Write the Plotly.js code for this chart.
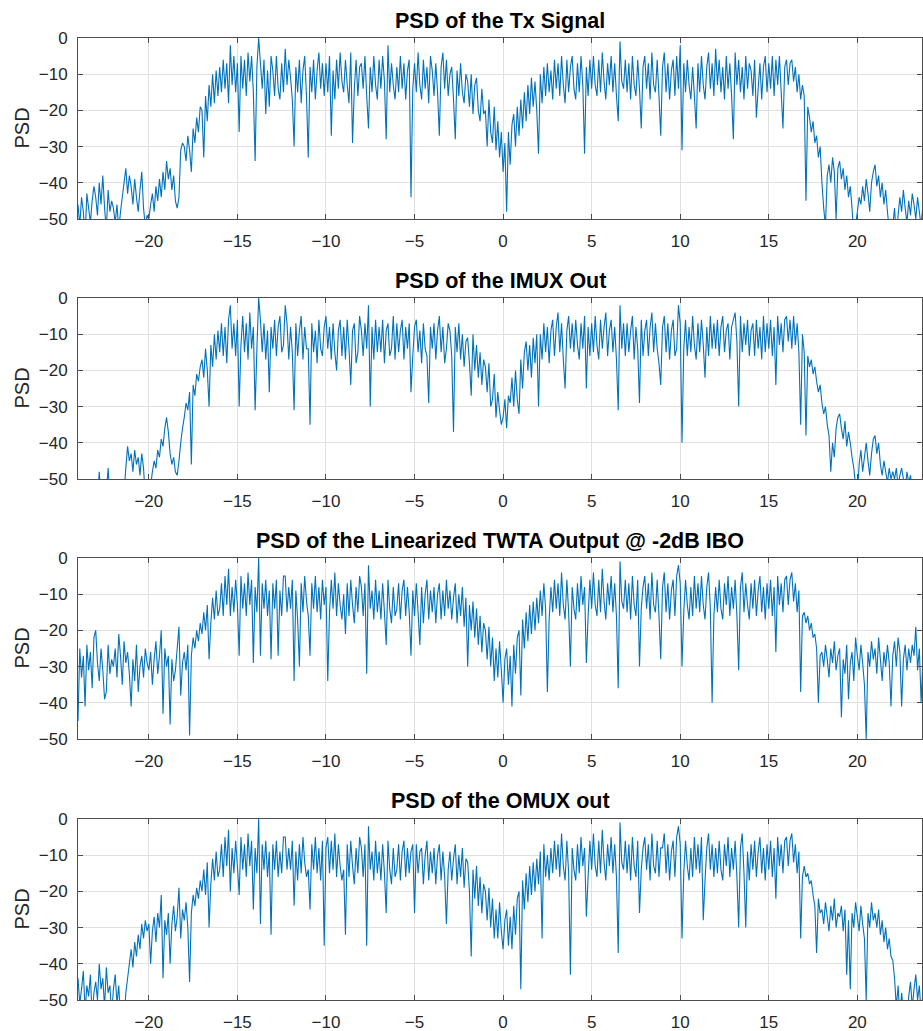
<!DOCTYPE html>
<html>
<head>
<meta charset="utf-8">
<script src="https://cdn.plot.ly/plotly-3.0.1.min.js"></script>
<style>
  html, body { margin: 0; padding: 0; background: #ffffff; }
  #chart { width: 923px; height: 1031px; }
</style>
</head>
<body>
<div id="chart"></div>
<script>
// Frequency grid of the PSD estimates (first bin and bin spacing)
const FREQ_START = -24;
const FREQ_STEP = 0.1;

const titles = [
  "PSD of the Tx Signal",
  "PSD of the IMUX Out",
  "PSD of the Linearized TWTA Output @ -2dB IBO",
  "PSD of the OMUX out"
];
const xTickVals = [-20, -15, -10, -5, 0, 5, 10, 15, 20];
const yTickVals = [-50, -40, -30, -20, -10, 0];

// PSD of the Tx Signal (dB), one row per unit of frequency from -24 to 23
const txPsd = [
  -46,-52,-44,-48,-55,-43,-47,-51,-45,-41,
  -44,-49,-40,-46,-38,-47,-53,-42,-48,-45,
  -47,-51,-46,-53,-48,-44,-40,-36,-43,-38,
  -41,-46,-39,-44,-48,-42,-37,-47,-52,-49,
  -50,-46,-43,-48,-41,-45,-39,-44,-37,-42,
  -34,-39,-36,-42,-38,-45,-47,-44,-31,-29,
  -30,-34,-27,-31,-37,-25,-29,-22,-26,-19,
  -20,-33,-16,-23,-13,-19,-10,-18,-9,-16,
  -8,-15,-6,-14,-7,-18,-2,-13,-5,-15,
  -7,-26,-5,-14,-6,-16,-4,-12,-5,-15,
  -34,-8,0,-7,-14,-6,-21,-9,-19,-5,
  -9,-16,-5,-14,-17,-7,-15,-3,-13,-6,
  -11,-17,-30,-8,-15,-6,-18,-9,-5,-16,
  -33,-8,-15,-6,-17,-9,-4,-14,-7,-16,
  -7,-15,-5,-27,-9,-17,-6,-14,-4,-12,
  -15,-6,-13,-18,-4,-29,-14,-6,-16,-8,
  -7,-14,-5,-16,-25,-8,-15,-5,-13,-17,
  -6,-14,-5,-12,-28,-2,-15,-7,-13,-17,
  -8,-15,-5,-14,-7,-17,-9,-6,-44,-14,
  -7,-15,-4,-13,-17,-6,-14,-8,-18,-5,
  -9,-16,-7,-15,-27,-8,-4,-14,-6,-16,
  -10,-8,-17,-28,-9,-16,-7,-15,-18,-10,
  -12,-19,-10,-21,-13,-11,-20,-23,-14,-21,
  -20,-30,-17,-26,-29,-19,-31,-23,-33,-26,
  -37,-29,-48,-26,-35,-24,-21,-30,-19,-27,
  -17,-25,-15,-23,-13,-21,-11,-19,-12,-20,
  -32,-10,-18,-8,-16,-7,-15,-9,-17,-6,
  -14,-7,-16,-5,-13,-18,-6,-15,-8,-5,
  -14,-17,-7,-15,-5,-13,-32,-8,-16,-6,
  -14,-5,-13,-16,-6,-15,-4,-12,-17,-7,
  -13,-5,-15,-7,-16,-23,-1,-12,-14,-6,
  -15,-7,-17,-5,-13,-16,-6,-14,-25,-8,
  -5,-14,-7,-17,-4,-13,-15,-6,-16,-27,
  -8,-4,-15,-7,-17,-9,-6,-16,-5,-14,
  -2,-31,-7,-15,-6,-13,-17,-8,-16,-25,
  -7,-15,-5,-13,-17,-8,-4,-14,-7,-16,
  -3,-13,-6,-15,-8,-17,-5,-14,-7,-16,
  -28,-4,-13,-6,-15,-8,-17,-5,-14,-7,
  -9,-16,-6,-22,-14,-7,-17,-8,-5,-15,
  -7,-14,-5,-16,-6,-13,-5,-15,-25,-8,
  -6,-13,-7,-6,-12,-8,-15,-10,-17,-13,
  -16,-45,-19,-22,-26,-23,-29,-27,-33,-30,
  -40,-47,-52,-38,-35,-40,-33,-37,-50,-36,
  -34,-39,-36,-42,-38,-44,-41,-47,-55,-52,
  -48,-44,-46,-41,-45,-39,-43,-48,-40,-37,
  -35,-41,-38,-44,-40,-46,-42,-48,-53,-50,
  -52,-47,-55,-49,-44,-48,-42,-47,-51,-45,
  -49,-43,-46,-50,-44,-48,-52,-46,-50,-47
];

// PSD of the IMUX Out (dB)
const imuxPsd = [
  -56,-60,-55,-58,-62,-57,-54,-59,-61,-56,
  -58,-55,-48,-56,-60,-57,-54,-47,-55,-59,
  -57,-61,-55,-58,-56,-60,-54,-47,-41,-45,
  -43,-48,-42,-46,-44,-49,-43,-47,-55,-58,
  -57,-52,-48,-45,-47,-42,-44,-39,-41,-36,
  -33,-37,-43,-46,-44,-48,-49,-45,-40,-36,
  -33,-29,-31,-26,-46,-24,-27,-21,-23,-19,
  -17,-22,-14,-20,-30,-13,-19,-10,-17,-9,
  -15,-7,-16,-8,-18,-6,-2,-14,-7,-16,
  -6,-30,-13,-5,-15,-7,-17,-4,-14,-8,
  -31,-14,0,-6,-15,-7,-17,-9,-26,-8,
  -14,-6,-16,-8,-5,-15,-13,-2,-7,-17,
  -8,-15,-31,-7,-16,-9,-5,-17,-8,-14,
  -14,-35,-7,-15,-9,-18,-6,-14,-16,-8,
  -5,-14,-8,-17,-7,-15,-20,-9,-6,-16,
  -8,-17,-6,-14,-24,-9,-7,-18,-15,-5,
  -9,-16,-7,-14,-2,-30,-8,-17,-6,-15,
  -8,-15,-6,-18,-9,-7,-16,-14,-5,-17,
  -7,-15,-9,-6,-17,-8,-14,-7,-26,-16,
  -8,-6,-15,-9,-18,-7,-14,-16,-29,-8,
  -14,-7,-17,-9,-5,-15,-8,-18,-14,-7,
  -9,-16,-37,-8,-15,-7,-17,-10,-19,-12,
  -11,-18,-27,-10,-20,-13,-22,-15,-24,-17,
  -19,-26,-18,-30,-28,-21,-33,-26,-31,-35,
  -33,-28,-36,-27,-29,-22,-30,-20,-28,-32,
  -17,-25,-15,-12,-20,-13,-22,-11,-18,-10,
  -30,-10,-17,-7,-15,-8,-18,-9,-6,-16,
  -8,-4,-15,-7,-17,-25,-9,-5,-14,-7,
  -15,-6,-13,-17,-7,-14,-5,-25,-8,-16,
  -7,-15,-5,-13,-17,-6,-14,-8,-4,-16,
  -9,-6,-15,-8,-17,-31,-2,-14,-7,-16,
  -7,-15,-9,-5,-17,-8,-14,-29,-6,-16,
  -9,-6,-16,-8,-4,-15,-7,-14,-18,-24,
  -8,-5,-15,-7,-17,-9,-6,-16,-14,-2,
  -7,-40,-14,-6,-16,-8,-15,-5,-13,-17,
  -7,-15,-6,-13,-22,-8,-16,-5,-14,-7,
  -14,-6,-16,-8,-5,-15,-9,-7,-17,-8,
  -6,-4,-12,-30,-5,-15,-7,-13,-6,-16,
  -9,-7,-16,-6,-14,-8,-17,-5,-15,-7,
  -14,-6,-16,-8,-24,-5,-13,-7,-15,-6,
  -5,-12,-6,-14,-5,-13,-7,-15,-35,-10,
  -15,-38,-16,-19,-17,-21,-19,-23,-26,-24,
  -29,-32,-30,-35,-38,-48,-40,-44,-36,-33,
  -32,-36,-39,-34,-41,-37,-40,-44,-47,-52,
  -55,-46,-42,-48,-44,-40,-45,-49,-43,-39,
  -38,-43,-40,-46,-49,-45,-48,-51,-47,-50,
  -48,-50,-47,-52,-49,-47,-50,-53,-48,-51,
  -49,-53,-55,-58,-56,-60,-57,-59,-62,-58
];

// PSD of the Linearized TWTA Output @ -2dB IBO (dB)
const twtaPsd = [
  -45,-25,-33,-27,-41,-24,-31,-26,-36,-22,
  -20,-29,-34,-25,-31,-39,-37,-24,-32,-28,
  -30,-25,-33,-21,-27,-35,-23,-29,-26,-32,
  -41,-28,-34,-24,-37,-30,-27,-33,-25,-29,
  -31,-26,-35,-28,-23,-32,-27,-20,-43,-25,
  -30,-27,-46,-28,-34,-31,-25,-19,-38,-29,
  -26,-31,-24,-49,-27,-22,-25,-20,-23,-18,
  -21,-15,-20,-13,-28,-18,-11,-17,-9,-16,
  -14,-7,-16,-5,-13,-3,-16,-8,-15,-6,
  -13,-27,-5,-14,-7,-16,-4,-13,-6,-29,
  -8,-15,0,-27,-7,-14,-6,-16,-9,-28,
  -7,-14,-6,-27,-9,-16,-5,-5,-15,-8,
  -14,-6,-34,-9,-17,-30,-7,-15,-5,-12,
  -16,-27,-7,-14,-5,-15,-8,-17,-6,-13,
  -8,-34,-15,-6,-14,-4,-16,-7,-13,-17,
  -10,-21,-7,-16,-6,-13,-18,-8,-15,-5,
  -8,-16,-7,-32,-2,-14,-9,-17,-6,-15,
  -9,-17,-7,-15,-24,-6,-14,-18,-8,-16,
  -14,-7,-17,-9,-6,-16,-8,-15,-27,-9,
  -16,-7,-15,-24,-8,-18,-10,-6,-17,-9,
  -15,-8,-18,-10,-7,-17,-9,-16,-6,-14,
  -9,-17,-11,-7,-18,-10,-16,-8,-19,-11,
  -30,-13,-20,-12,-22,-14,-24,-16,-26,-18,
  -20,-28,-19,-30,-22,-34,-25,-33,-23,-31,
  -40,-28,-25,-35,-27,-41,-24,-32,-22,-20,
  -38,-17,-25,-15,-23,-13,-21,-12,-20,-11,
  -18,-9,-16,-7,-14,-37,-17,-8,-15,-6,
  -14,-7,-16,-4,-13,-17,-6,-15,-30,-8,
  -14,-17,-7,-15,-5,-13,-8,-29,-16,-6,
  -14,-4,-13,-16,-6,-15,-3,-12,-17,-7,
  -13,-5,-15,-7,-16,-36,-1,-12,-14,-6,
  -15,-7,-17,-5,-13,-16,-6,-30,-14,-8,
  -5,-14,-7,-17,-4,-13,-15,-6,-16,-28,
  -8,-4,-15,-7,-17,-9,-6,-16,-5,-2,
  -7,-30,-15,-6,-13,-17,-8,-16,-5,-14,
  -7,-15,-5,-13,-17,-8,-4,-14,-40,-16,
  -8,-15,-6,-14,-17,-7,-13,-5,-16,-8,
  -14,-6,-16,-31,-8,-4,-15,-7,-13,-17,
  -7,-14,-6,-16,-9,-5,-15,-8,-17,-7,
  -14,-6,-16,-8,-26,-5,-13,-7,-15,-6,
  -5,-13,-6,-4,-12,-7,-15,-9,-37,-16,
  -15,-18,-16,-20,-18,-22,-21,-25,-40,-27,
  -26,-30,-24,-28,-33,-25,-29,-23,-31,-27,
  -25,-44,-28,-32,-24,-39,-29,-26,-34,-22,
  -27,-31,-24,-29,-35,-50,-26,-30,-23,-28,
  -25,-32,-22,-28,-34,-26,-30,-24,-29,-41,
  -27,-23,-30,-22,-26,-41,-28,-24,-31,-25,
  -29,-24,-27,-19,-31,-25,-40,-28,-33,-26
];

// PSD of the OMUX out (dB)
const omuxPsd = [
  -44,-51,-47,-42,-53,-46,-49,-43,-55,-48,
  -45,-50,-40,-47,-44,-52,-41,-48,-46,-54,
  -47,-43,-51,-46,-55,-52,-56,-48,-44,-40,
  -36,-41,-34,-38,-32,-36,-29,-33,-28,-31,
  -29,-40,-31,-27,-34,-26,-30,-21,-44,-28,
  -32,-26,-40,-29,-24,-31,-27,-19,-33,-25,
  -28,-23,-30,-45,-26,-21,-24,-19,-22,-17,
  -20,-14,-21,-12,-30,-18,-11,-17,-9,-16,
  -14,-7,-16,-5,-13,-3,-20,-8,-15,-6,
  -13,-21,-5,-14,-7,-16,-4,-13,-6,-25,
  -8,-15,0,-29,-7,-14,-6,-16,-9,-32,
  -7,-14,-6,-16,-9,-15,-5,-5,-14,-8,
  -14,-6,-24,-9,-17,-7,-15,-5,-12,-16,
  -14,-25,-7,-14,-5,-15,-8,-17,-6,-35,
  -8,-5,-15,-6,-14,-4,-16,-7,-13,-17,
  -14,-32,-7,-16,-6,-13,-18,-8,-15,-5,
  -8,-16,-7,-35,-2,-14,-9,-17,-6,-15,
  -9,-17,-7,-15,-26,-6,-14,-18,-8,-16,
  -14,-7,-17,-9,-6,-16,-8,-15,-9,-7,
  -26,-7,-15,-9,-8,-18,-10,-6,-17,-9,
  -15,-8,-18,-10,-7,-17,-9,-16,-29,-14,
  -9,-17,-11,-7,-18,-10,-16,-8,-19,-11,
  -12,-20,-38,-14,-22,-13,-24,-16,-26,-18,
  -20,-28,-19,-30,-22,-33,-25,-33,-23,-31,
  -36,-28,-25,-35,-27,-36,-24,-32,-22,-20,
  -47,-17,-25,-15,-23,-13,-21,-12,-20,-11,
  -18,-9,-33,-7,-16,-10,-17,-8,-15,-6,
  -14,-7,-16,-4,-13,-17,-6,-15,-43,-8,
  -14,-17,-7,-15,-5,-13,-8,-27,-16,-6,
  -14,-4,-13,-16,-6,-15,-3,-12,-17,-7,
  -13,-5,-15,-7,-16,-37,-1,-12,-14,-6,
  -15,-7,-17,-5,-13,-16,-6,-26,-14,-8,
  -5,-14,-7,-17,-4,-13,-15,-6,-16,-8,
  -8,-4,-15,-7,-17,-9,-6,-16,-5,-2,
  -7,-33,-15,-6,-13,-17,-8,-16,-5,-14,
  -7,-15,-5,-28,-17,-8,-4,-14,-7,-16,
  -8,-15,-6,-14,-17,-7,-13,-5,-16,-8,
  -14,-6,-16,-30,-8,-4,-15,-30,-9,-17,
  -7,-14,-6,-16,-9,-5,-15,-8,-17,-7,
  -14,-6,-16,-8,-22,-5,-13,-7,-15,-6,
  -5,-13,-6,-4,-12,-7,-15,-9,-33,-16,
  -13,-16,-15,-18,-17,-21,-24,-37,-22,-26,
  -25,-29,-23,-27,-31,-24,-28,-22,-30,-26,
  -27,-24,-31,-25,-43,-28,-47,-26,-30,-23,
  -27,-31,-24,-29,-33,-50,-26,-30,-23,-28,
  -26,-30,-25,-32,-28,-34,-30,-36,-33,-38,
  -39,-44,-52,-46,-55,-48,-53,-50,-56,-49,
  -45,-52,-47,-43,-50,-46,-54,-48,-44,-51
];

const series = [txPsd, imuxPsd, twtaPsd, omuxPsd];

const FONT = "Liberation Sans, Arial, Helvetica, sans-serif";
const LINE_COLOR = "#0072BD";
const domains = [[0.8119, 1], [0.5416, 0.7297], [0.2713, 0.4595], [0, 0.1882]];
const titleY = [1.0177, 0.7474, 0.4771, 0.2069];
const minusText = v => String(v).replace("-", "\u2212");

const traces = series.map((vals, i) => ({
  type: "scatter",
  mode: "lines",
  x0: FREQ_START,
  dx: FREQ_STEP,
  y: vals,
  xaxis: i === 0 ? "x" : "x" + (i + 1),
  yaxis: i === 0 ? "y" : "y" + (i + 1),
  line: { color: LINE_COLOR, width: 1.1, simplify: false },
  hoverinfo: "skip",
  showlegend: false
}));

const layout = {
  width: 923,
  height: 1031,
  margin: { l: 78, r: 1, t: 38, b: 31, pad: 0 },
  paper_bgcolor: "#ffffff",
  plot_bgcolor: "#ffffff",
  showlegend: false,
  font: { family: FONT, color: "#262626" },
  annotations: []
};

for (let i = 0; i < 4; i++) {
  const sfx = i === 0 ? "" : String(i + 1);
  layout["xaxis" + sfx] = {
    anchor: "y" + sfx,
    domain: [0, 1],
    range: [-24, 23.65],
    tickmode: "array",
    tickvals: xTickVals,
    ticktext: xTickVals.map(minusText),
    ticks: "inside",
    ticklen: 5,
    tickwidth: 1,
    tickcolor: "#4d4d4d",
    showline: true,
    linecolor: "#4d4d4d",
    linewidth: 1,
    mirror: "allticks",
    showgrid: true,
    gridcolor: "#e0e0e0",
    gridwidth: 1,
    zeroline: false,
    ticklabelstandoff: 7,
    tickfont: { family: FONT, size: 17, color: "#262626" },
    fixedrange: true
  };
  layout["yaxis" + sfx] = {
    anchor: "x" + sfx,
    domain: domains[i],
    range: [-50, 0],
    tickmode: "array",
    tickvals: yTickVals,
    ticktext: yTickVals.map(minusText),
    ticks: "inside",
    ticklen: 5,
    tickwidth: 1,
    tickcolor: "#4d4d4d",
    showline: true,
    linecolor: "#4d4d4d",
    linewidth: 1,
    mirror: "allticks",
    showgrid: true,
    gridcolor: "#e0e0e0",
    gridwidth: 1,
    zeroline: false,
    ticklabelstandoff: 6,
    tickfont: { family: FONT, size: 17, color: "#262626" },
    fixedrange: true
  };
  layout.annotations.push({
    text: "<b>" + titles[i] + "</b>",
    xref: "paper", yref: "paper",
    x: 0.5, y: titleY[i],
    xanchor: "center", yanchor: "middle",
    showarrow: false,
    font: { family: FONT, size: 21.5, color: "#000000" }
  });
  layout.annotations.push({
    text: "PSD",
    xref: "paper", yref: "paper",
    x: 0, y: (domains[i][0] + domains[i][1]) / 2,
    xshift: -56,
    xanchor: "center", yanchor: "middle",
    textangle: -90,
    showarrow: false,
    font: { family: FONT, size: 20, color: "#262626" }
  });
}

Plotly.newPlot("chart", traces, layout, { staticPlot: true, displayModeBar: false });
</script>
</body>
</html>
